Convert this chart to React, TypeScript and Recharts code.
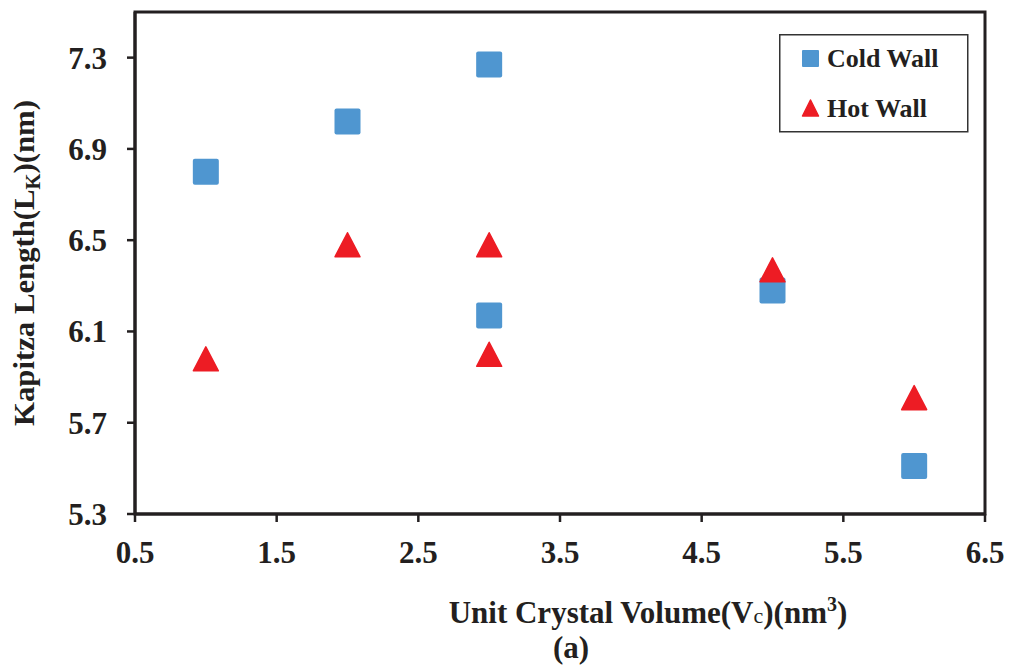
import React from "react";
import {
  ScatterChart,
  Scatter,
  XAxis,
  YAxis,
  ReferenceArea,
  Label,
} from "recharts";

const coldX = [1, 2, 3, 3, 5, 6];
const coldY = [6.8, 7.02, 7.27, 6.17, 6.28, 5.51];
const hotX = [1, 2, 3, 3, 5, 6];
const hotY = [5.98, 6.48, 6.48, 6.0, 6.37, 5.81];

const xTicks = [0.5, 1.5, 2.5, 3.5, 4.5, 5.5, 6.5];
const yTicks = [5.3, 5.7, 6.1, 6.5, 6.9, 7.3];
const xMinorTicks = [
  0.7, 0.9, 1.1, 1.3, 1.7, 1.9, 2.1, 2.3, 2.7, 2.9, 3.1, 3.3, 3.7, 3.9, 4.1, 4.3,
  4.7, 4.9, 5.1, 5.3, 5.7, 5.9, 6.1, 6.3,
];
const yMinorTicks = [
  5.4, 5.5, 5.6, 5.8, 5.9, 6.0, 6.2, 6.3, 6.4, 6.6, 6.7, 6.8, 7.0, 7.1, 7.2, 7.4,
];
const seriesNames = ["Cold Wall", "Hot Wall"];

const coldData = coldX.map((x, i) => ({ x, y: coldY[i] }));
const hotData = hotX.map((x, i) => ({ x, y: hotY[i] }));

const BLUE = "#4F96D0";
const RED = "#ED1C24";
const INK = "#231F20";
const FONT = "'Liberation Serif', 'Times New Roman', serif";

const SquareShape = (props: any) => {
  const { cx, cy } = props;
  const s = 26;
  return <rect x={cx - s / 2} y={cy - s / 2} width={s} height={s} rx={2} fill={BLUE} />;
};

const TriangleShape = (props: any) => {
  const { cx, cy } = props;
  const w = 25;
  const h = 24;
  const p = `M${cx},${cy - h / 2} L${cx + w / 2},${cy + h / 2} L${cx - w / 2},${cy + h / 2} Z`;
  return <path d={p} fill={RED} stroke={RED} strokeWidth={1.5} strokeLinejoin="round" />;
};

const tickStyle = { fontSize: 31, fontWeight: 700, fill: INK, fontFamily: FONT };

const YTitle = (props: any) => {
  const vb = props.viewBox || { x: 0, y: 0, width: 0, height: 0 };
  const cx = vb.x + 26;
  const cy = vb.y + vb.height / 2;
  return (
    <text
      transform={`translate(${cx},${cy}) rotate(-90)`}
      textAnchor="middle"
      fontFamily={FONT}
      fontWeight={700}
      fontSize={30}
      fill={INK}
      textLength={326}
      lengthAdjust="spacingAndGlyphs"
    >
      Kapitza  Length(L
      <tspan fontSize={20} dy={6}>K</tspan>
      <tspan dy={-6}>)(nm)</tspan>
    </text>
  );
};

const XTitle = (props: any) => {
  const vb = props.viewBox || { x: 0, y: 0, width: 0, height: 0 };
  const cx = vb.x + vb.width / 2 + 88;
  return (
    <g>
      <text
        x={cx}
        y={615}
        textAnchor="middle"
        fontFamily={FONT}
        fontWeight={700}
        fontSize={31}
        fill={INK}
      >
        Unit Crystal Volume(V
        <tspan fontSize={22} fontWeight={400}>c</tspan>
        <tspan>)(nm</tspan>
        <tspan fontSize={20} dy={-12}>3</tspan>
        <tspan dy={12}>)</tspan>
      </text>
      <text
        x={cx - 77}
        y={650}
        textAnchor="middle"
        fontFamily={FONT}
        fontWeight={700}
        fontSize={31}
        fill={INK}
      >
        (a)
      </text>
    </g>
  );
};

const LegendBox = () => (
  <svg
    style={{ position: "absolute", left: 771, top: 26 }}
    width={190}
    height={99}
  >
    <rect x={0.75} y={0.75} width={188} height={97} fill="#fff" stroke="#333" strokeWidth={1.5} />
    <rect x={23} y={16} width={17} height={17} rx={1} fill={BLUE} />
    <text x={48} y={33} fontFamily={FONT} fontWeight={700} fontSize={26} fill={INK}>
      {seriesNames[0]}
    </text>
    <path d="M31.5,66 L39.5,82 L23.5,82 Z" fill={RED} stroke={RED} strokeWidth={1.5} strokeLinejoin="round" />
    <text x={48} y={83} fontFamily={FONT} fontWeight={700} fontSize={26} fill={INK}>
      {seriesNames[1]}
    </text>
  </svg>
);

export default function App() {
  return (
    <div style={{ position: "relative", width: 1000, height: 660, background: "#fff" }}>
      <ScatterChart
        width={1000}
        height={660}
        margin={{ top: 4, right: 23, bottom: 94, left: 0 }}
      >
        <XAxis
          type="number"
          dataKey="x"
          domain={[0.5, 6.5]}
          ticks={xTicks}
          allowDataOverflow
          height={60}
          tick={tickStyle}
          tickSize={8}
          tickMargin={19}
          tickFormatter={(v: number) => v.toFixed(1)}
          axisLine={{ stroke: INK, strokeWidth: 3 }}
          tickLine={{ stroke: INK, strokeWidth: 2.5 }}
        >
          <Label content={<XTitle />} />
        </XAxis>
        <YAxis
          type="number"
          dataKey="y"
          domain={[5.3, 7.5]}
          ticks={yTicks}
          allowDataOverflow
          width={127}
          tick={tickStyle}
          tickSize={8}
          tickMargin={20}
          tickFormatter={(v: number) => v.toFixed(1)}
          axisLine={{ stroke: INK, strokeWidth: 3 }}
          tickLine={{ stroke: INK, strokeWidth: 2.5 }}
        >
          <Label content={<YTitle />} />
        </YAxis>
        <XAxis
          xAxisId="innerMinor"
          type="number"
          dataKey="x"
          domain={[0.5, 6.5]}
          ticks={xMinorTicks}
          allowDataOverflow
          mirror
          tick={false}
          tickSize={7}
          axisLine={false}
          tickLine={{ stroke: INK, strokeWidth: 2 }}
        />
        <XAxis
          xAxisId="innerMajor"
          type="number"
          dataKey="x"
          domain={[0.5, 6.5]}
          ticks={xTicks}
          allowDataOverflow
          mirror
          tick={false}
          tickSize={9}
          axisLine={false}
          tickLine={{ stroke: INK, strokeWidth: 2.5 }}
        />
        <YAxis
          yAxisId="innerMinor"
          type="number"
          dataKey="y"
          domain={[5.3, 7.5]}
          ticks={yMinorTicks}
          allowDataOverflow
          mirror
          tick={false}
          tickSize={7}
          axisLine={false}
          tickLine={{ stroke: INK, strokeWidth: 2 }}
        />
        <YAxis
          yAxisId="innerMajor"
          type="number"
          dataKey="y"
          domain={[5.3, 7.5]}
          ticks={yTicks}
          allowDataOverflow
          mirror
          tick={false}
          tickSize={9}
          axisLine={false}
          tickLine={{ stroke: INK, strokeWidth: 2.5 }}
        />
        <ReferenceArea
          x1={0.5}
          x2={6.5}
          y1={5.3}
          y2={7.5}
          fill="none"
          fillOpacity={0}
          stroke={INK}
          strokeWidth={3}
        />
        <Scatter name={seriesNames[0]} data={coldData} shape={<SquareShape />} isAnimationActive={false} />
        <Scatter name={seriesNames[1]} data={hotData} shape={<TriangleShape />} isAnimationActive={false} />
      </ScatterChart>
      <LegendBox />
    </div>
  );
}
